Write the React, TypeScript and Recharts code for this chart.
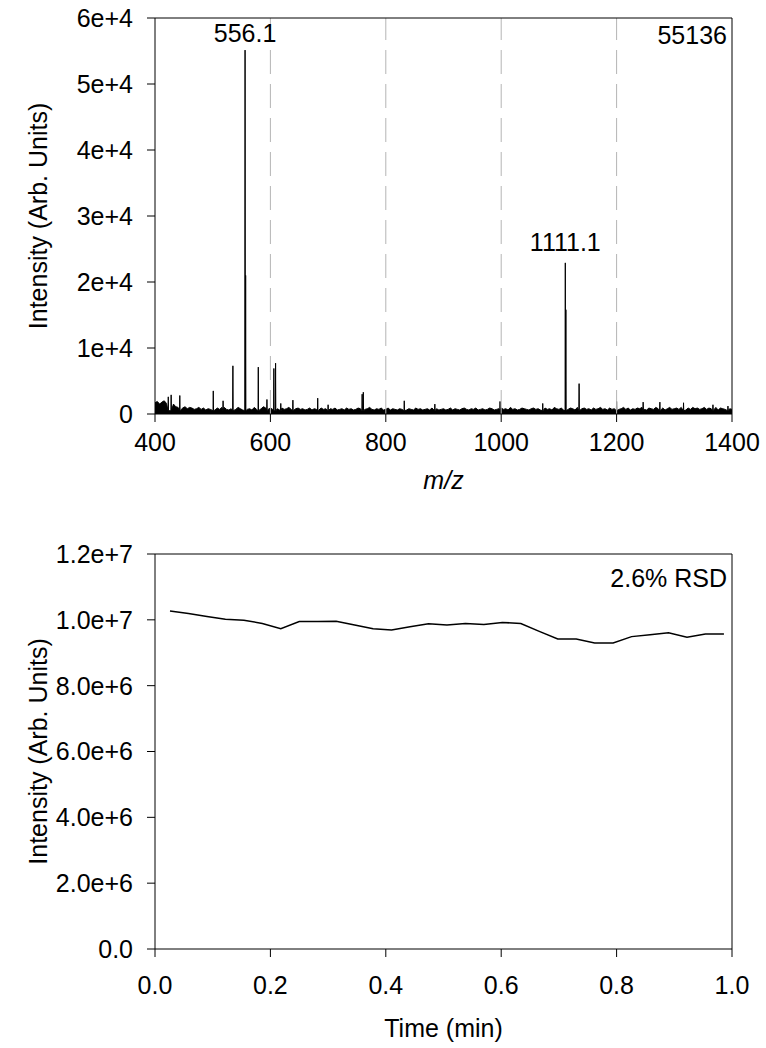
import React from "react";
import {
  Area,
  ComposedChart,
  Line,
  ReferenceDot,
  ReferenceLine,
  XAxis,
  YAxis,
} from "recharts";

const FONT = "'Liberation Sans', Arial, Helvetica, sans-serif";
const FS = 25;

// ---- top panel: mass spectrum ----
// baseline noise, in units of 100 counts, one value every 4 m/z from 400
const noise400 = [16, 18, 14, 17, 19, 15, 13, 12, 14, 10, 9, 11, 8, 10, 7, 9, 8, 6, 7, 9, 6, 8, 5, 7, 6];
const noise500 = [7, 5, 8, 6, 9, 9, 6, 5, 7, 8, 6, 9, 7, 5, 8, 6, 7, 5, 9, 6, 8, 7, 10, 8, 6];
const noise600 = [8, 6, 9, 7, 5, 8, 6, 7, 9, 6, 5, 7, 8, 6, 7, 5, 6, 8, 5, 7, 6, 5, 8, 6, 7];
const noise700 = [5, 7, 6, 8, 5, 6, 7, 5, 8, 6, 7, 5, 6, 8, 7, 5, 6, 7, 9, 6, 5, 7, 6, 8, 5];
const noise800 = [6, 8, 5, 7, 6, 5, 7, 6, 8, 5, 7, 6, 5, 8, 6, 7, 5, 6, 7, 5, 8, 6, 7, 5, 6];
const noise900 = [7, 5, 6, 8, 5, 7, 6, 5, 7, 8, 6, 5, 7, 6, 8, 5, 6, 7, 5, 6, 8, 7, 5, 6, 7];
const noise1000 = [8, 6, 7, 5, 9, 6, 7, 5, 6, 8, 7, 6, 5, 7, 8, 6, 7, 5, 6, 8, 6, 7, 5, 9, 7];
const noise1100 = [6, 8, 5, 7, 6, 8, 7, 5, 9, 6, 7, 8, 6, 7, 5, 8, 6, 7, 9, 6, 7, 5, 8, 6, 7];
const noise1200 = [8, 6, 7, 9, 6, 8, 5, 7, 6, 8, 7, 9, 6, 5, 8, 7, 6, 9, 7, 6, 8, 5, 7, 9, 6];
const noise1300 = [7, 8, 6, 9, 7, 5, 8, 6, 9, 7, 8, 6, 7, 9, 6, 8, 7, 6, 9, 5, 8, 7, 6, 8, 7, 6];

const peakMz = [423, 428, 443, 501, 518, 535, 556.1, 557.1, 579, 594, 606, 609, 618, 639, 682, 700, 759, 761, 832, 885, 998, 1072, 1111.1, 1112.1, 1135, 1200, 1246, 1275, 1316, 1367, 1393];
const peakHeight = [2600, 2900, 2800, 3500, 2000, 7300, 55136, 21000, 7100, 2200, 6900, 7700, 1600, 2100, 2400, 1400, 3000, 3300, 2000, 1500, 1900, 1600, 22900, 15800, 4600, 1900, 1800, 1800, 1700, 1400, 1200];

const specXTicks = [400, 600, 800, 1000, 1200, 1400];
const specYTicks = [0, 10000, 20000, 30000, 40000, 50000, 60000];
const specYLabels = ["0", "1e+4", "2e+4", "3e+4", "4e+4", "5e+4", "6e+4"];
const gridMz = [600, 800, 1000, 1200];

const noise = [
  ...noise400, ...noise500, ...noise600, ...noise700, ...noise800,
  ...noise900, ...noise1000, ...noise1100, ...noise1200, ...noise1300,
];

const spectrum: { mz: number; intensity: number }[] = [];
noise.forEach((v, i) => {
  const mz = 400 + i * 4;
  if (peakMz.some((p) => Math.abs(p - mz) < 1.2)) return;
  spectrum.push({ mz, intensity: v * 100 + 100 });
});
peakMz.forEach((p, i) => {
  spectrum.push({ mz: p - 0.4, intensity: 500 });
  spectrum.push({ mz: p, intensity: peakHeight[i] });
  spectrum.push({ mz: p + 0.4, intensity: 500 });
});
spectrum.sort((a, b) => a.mz - b.mz);

// ---- bottom panel: signal stability ----
const timeMin = [0.026, 0.058, 0.09, 0.122, 0.154, 0.186, 0.218, 0.25, 0.282, 0.314, 0.346, 0.378, 0.41, 0.442, 0.474, 0.506, 0.538, 0.57, 0.602, 0.634, 0.666, 0.698, 0.73, 0.762, 0.794, 0.826, 0.858, 0.89, 0.922, 0.954, 0.986];
const signal = [10270000, 10190000, 10100000, 10020000, 9990000, 9890000, 9730000, 9950000, 9950000, 9960000, 9840000, 9730000, 9690000, 9790000, 9880000, 9840000, 9890000, 9860000, 9920000, 9890000, 9650000, 9420000, 9420000, 9300000, 9300000, 9490000, 9550000, 9610000, 9470000, 9570000, 9570000];

const timeXTicks = [0, 0.2, 0.4, 0.6, 0.8, 1.0];
const timeXLabels = ["0.0", "0.2", "0.4", "0.6", "0.8", "1.0"];
const timeYTicks = [0, 2000000, 4000000, 6000000, 8000000, 10000000, 12000000];
const timeYLabels = ["0.0", "2.0e+6", "4.0e+6", "6.0e+6", "8.0e+6", "1.0e+7", "1.2e+7"];

const stability = timeMin.map((t, i) => ({ t, v: signal[i] }));

const tickStyle = { fill: "#000", fontSize: FS, fontFamily: FONT };
const axisStroke = { stroke: "#000", strokeWidth: 1 };

function yTitle(text: string) {
  return ({ viewBox }: any) => (
    <text
      x={viewBox.x + 28}
      y={viewBox.y + viewBox.height / 2}
      transform={`rotate(-90, ${viewBox.x + 28}, ${viewBox.y + viewBox.height / 2})`}
      textAnchor="middle"
      dominantBaseline="central"
      fontSize={FS}
      fontFamily={FONT}
      fill="#000"
    >
      {text}
    </text>
  );
}

function xTitle(text: string, dy: number, italic?: boolean) {
  return ({ viewBox }: any) => (
    <text
      x={viewBox.x + viewBox.width / 2}
      y={viewBox.y + dy}
      textAnchor="middle"
      dominantBaseline="central"
      fontSize={FS}
      fontFamily={FONT}
      fontStyle={italic ? "italic" : "normal"}
      fill="#000"
    >
      {text}
    </text>
  );
}

function cornerText(text: string, dy: number) {
  return ({ viewBox }: any) => (
    <text
      x={viewBox.x - 5}
      y={viewBox.y + dy}
      textAnchor="end"
      dominantBaseline="central"
      fontSize={FS}
      fontFamily={FONT}
      fill="#000"
    >
      {text}
    </text>
  );
}

function SpectrumChart() {
  return (
    <ComposedChart
      width={766}
      height={500}
      data={spectrum}
      margin={{ top: 18, right: 34, left: 10, bottom: 0 }}
    >
      {gridMz.map((m) => (
        <ReferenceLine key={m} x={m} stroke="#b4b4b4" strokeDasharray="24 10" />
      ))}
      <XAxis
        dataKey="mz"
        type="number"
        domain={[400, 1400]}
        ticks={specXTicks}
        tick={tickStyle}
        tickSize={8}
        tickMargin={11}
        axisLine={axisStroke}
        tickLine={axisStroke}
        height={86}
        label={{ content: xTitle("m/z", 66, true) }}
      />
      <YAxis
        type="number"
        domain={[0, 60000]}
        ticks={specYTicks}
        tickFormatter={(v: number) => specYLabels[specYTicks.indexOf(v)]}
        tick={tickStyle}
        tickSize={8}
        tickMargin={14}
        axisLine={axisStroke}
        tickLine={axisStroke}
        width={145}
        label={{ content: yTitle("Intensity (Arb. Units)") }}
      />
      <Area
        type="linear"
        dataKey="intensity"
        stroke="#000"
        strokeWidth={1}
        fill="#000"
        fillOpacity={1}
        dot={false}
        activeDot={false}
        isAnimationActive={false}
      />
      <ReferenceLine y={60000} stroke="#000" ifOverflow="visible" />
      <ReferenceLine x={1400} stroke="#000" ifOverflow="visible" />
      <ReferenceDot
        x={556.1}
        y={55136}
        r={0}
        label={{ value: "556.1", position: "top", offset: 8, fill: "#000", fontSize: FS, fontFamily: FONT }}
      />
      <ReferenceDot
        x={1111.1}
        y={22900}
        r={0}
        label={{ value: "1111.1", position: "top", offset: 12, fill: "#000", fontSize: FS, fontFamily: FONT }}
      />
      <ReferenceDot
        x={1400}
        y={60000}
        r={0}
        ifOverflow="visible"
        label={{ content: cornerText("55136", 17) }}
      />
    </ComposedChart>
  );
}

function StabilityChart() {
  return (
    <ComposedChart
      width={766}
      height={548}
      data={stability}
      margin={{ top: 54, right: 34, left: 10, bottom: 0 }}
    >
      <XAxis
        dataKey="t"
        type="number"
        domain={[0, 1]}
        ticks={timeXTicks}
        tickFormatter={(v: number) => timeXLabels[timeXTicks.indexOf(v)]}
        tick={tickStyle}
        tickSize={8}
        tickMargin={19}
        axisLine={axisStroke}
        tickLine={axisStroke}
        height={99}
        label={{ content: xTitle("Time (min)", 79) }}
      />
      <YAxis
        type="number"
        domain={[0, 12000000]}
        ticks={timeYTicks}
        tickFormatter={(v: number) => timeYLabels[timeYTicks.indexOf(v)]}
        tick={tickStyle}
        tickSize={8}
        tickMargin={14}
        axisLine={axisStroke}
        tickLine={axisStroke}
        width={145}
        label={{ content: yTitle("Intensity (Arb. Units)") }}
      />
      <ReferenceLine y={12000000} stroke="#000" ifOverflow="visible" />
      <ReferenceLine x={1} stroke="#000" ifOverflow="visible" />
      <Line
        type="linear"
        dataKey="v"
        stroke="#000"
        strokeWidth={1.5}
        dot={false}
        activeDot={false}
        isAnimationActive={false}
      />
      <ReferenceDot
        x={1}
        y={12000000}
        r={0}
        ifOverflow="visible"
        label={{ content: cornerText("2.6% RSD", 24) }}
      />
    </ComposedChart>
  );
}

export default function App() {
  return (
    <div
      style={{
        position: "absolute",
        left: 0,
        top: 0,
        width: 766,
        height: 1048,
        background: "#fff",
      }}
    >
      <SpectrumChart />
      <StabilityChart />
    </div>
  );
}
